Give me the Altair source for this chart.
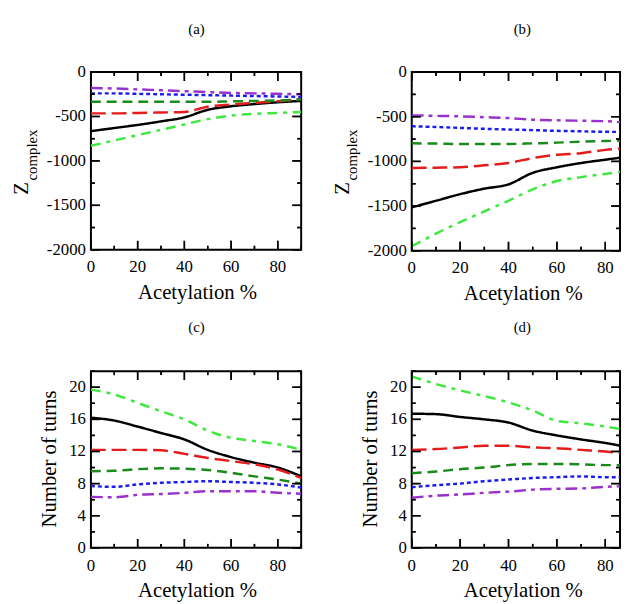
import altair as alt
import pandas as pd

FONT = "Liberation Serif"

x_vals = [0, 10, 20, 30, 40, 50, 60, 70, 80, 90]
series_names = ["s1", "s2", "s3", "s4", "s5", "s6"]
series_colors = ["#000000", "#e41c1c", "#1a8a1a", "#1c1cf0", "#9932cc", "#3ee83e"]
series_dashes = [[1, 0], [15, 6], [10, 6], [4, 3], [12, 5, 4, 5], [10, 6, 4, 6]]

# panel (a) : Z_complex
a_s1 = [-665, -630, -595, -555, -510, -425, -385, -360, -340, -325]
a_s2 = [-465, -465, -460, -455, -450, -390, -365, -346, -328, -302]
a_s3 = [-335, -335, -335, -335, -335, -335, -330, -325, -320, -310]
a_s4 = [-240, -240, -245, -250, -255, -260, -265, -270, -275, -280]
a_s5 = [-180, -185, -195, -205, -215, -225, -235, -240, -245, -250]
a_s6 = [-830, -770, -710, -650, -590, -530, -490, -470, -460, -450]

# panel (b) : Z_complex
b_s1 = [-1515, -1441, -1367, -1305, -1257, -1128, -1066, -1018, -981, -945]
b_s2 = [-1073, -1070, -1066, -1044, -1018, -963, -926, -908, -871, -850]
b_s3 = [-798, -800, -805, -805, -805, -798, -790, -779, -772, -765]
b_s4 = [-607, -615, -625, -635, -643, -650, -658, -663, -669, -670]
b_s5 = [-485, -490, -496, -505, -515, -533, -540, -545, -550, -570]
b_s6 = [-1950, -1809, -1680, -1559, -1441, -1312, -1220, -1176, -1140, -1100]

# panel (c) : Number of turns
c_s1 = [16.2, 15.85, 15.1, 14.3, 13.5, 12.2, 11.3, 10.6, 10.0, 8.9]
c_s2 = [12.2, 12.2, 12.2, 12.15, 11.7, 11.2, 10.8, 10.4, 9.75, 8.7]
c_s3 = [9.55, 9.6, 9.8, 9.9, 9.85, 9.7, 9.35, 8.9, 8.5, 8.0]
c_s4 = [7.7, 7.6, 7.9, 8.1, 8.2, 8.3, 8.2, 8.1, 7.9, 7.5]
c_s5 = [6.35, 6.3, 6.6, 6.7, 6.85, 7.05, 7.05, 7.05, 6.85, 6.75]
c_s6 = [19.7, 19.1, 18.05, 17.0, 16.0, 14.6, 13.7, 13.3, 12.9, 12.2]

# panel (d) : Number of turns
d_s1 = [16.7, 16.65, 16.3, 16.0, 15.6, 14.6, 14.0, 13.5, 13.06, 12.5]
d_s2 = [12.2, 12.3, 12.5, 12.7, 12.7, 12.5, 12.4, 12.2, 12.0, 11.7]
d_s3 = [9.3, 9.5, 9.8, 10.0, 10.3, 10.45, 10.45, 10.4, 10.3, 10.3]
d_s4 = [7.55, 7.8, 8.0, 8.3, 8.5, 8.7, 8.8, 8.9, 8.8, 8.8]
d_s5 = [6.25, 6.5, 6.65, 6.85, 7.0, 7.25, 7.35, 7.4, 7.6, 7.7]
d_s6 = [21.35, 20.4, 19.6, 18.9, 18.1, 17.1, 15.8, 15.5, 15.1, 14.6]

x_major = [0, 20, 40, 60, 80]
x_minor = [10, 30, 50, 70, 90]
z_major = [-2000, -1500, -1000, -500, 0]
z_minor = [-1750, -1250, -750, -250]
n_major = [0, 4, 8, 12, 16, 20]
n_minor = [2, 6, 10, 14, 18, 22]

x_title = "Acetylation %"
turns_title = "Number of turns"

MAJ = 9
MIN = 4


def make_df(lists):
    rows = []
    for name, vals in zip(series_names, lists):
        for xv, yv in zip(x_vals, vals):
            rows.append({"x": xv, "y": yv, "series": name})
    return pd.DataFrame(rows)


def panel(lists, xmax, ydom, ymaj, ymin, title, width, height, title_y,
          ytitle=None, ztitle=False, cx=107):
    df = make_df(lists)
    xs = alt.Scale(domain=[0, xmax], nice=False, zero=False)
    ys = alt.Scale(domain=ydom, nice=False, zero=False)
    xmaj = [v for v in x_major if v <= xmax]
    xmin = [v for v in x_minor if v <= xmax]

    X = lambda: alt.X("x:Q", scale=xs, axis=None)
    Y = lambda: alt.Y("y:Q", scale=ys, axis=None)

    lines = alt.Chart(df).mark_line(strokeWidth=2.5, interpolate="monotone", clip=True).encode(
        x=X(), y=Y(),
        color=alt.Color("series:N", scale=alt.Scale(domain=series_names, range=series_colors), legend=None),
        strokeDash=alt.StrokeDash("series:N", scale=alt.Scale(domain=series_names, range=series_dashes), legend=None),
        detail="series:N",
    )

    def xticks(values, size):
        d = pd.DataFrame({"x": values})
        out = []
        for y0, y1 in ((height, height - size), (0, size)):
            out.append(alt.Chart(d).mark_rule(color="black", strokeWidth=1.5).encode(
                x=X(), y=alt.value(y0), y2=alt.value(y1)))
            out.append(alt.Chart(d).mark_tick(color="black", thickness=1.5, size=size,
                                              orient="vertical", opacity=1).encode(
                x=X(), y=alt.value((y0 + y1) / 2)))
        return out

    def yticks(values, size):
        d = pd.DataFrame({"y": values})
        out = []
        for x0, x1 in ((0, size), (width, width - size)):
            out.append(alt.Chart(d).mark_rule(color="black", strokeWidth=1.5).encode(
                y=Y(), x=alt.value(x0), x2=alt.value(x1)))
            out.append(alt.Chart(d).mark_tick(color="black", thickness=1.5, size=size,
                                              orient="horizontal", opacity=1).encode(
                y=Y(), x=alt.value((x0 + x1) / 2)))
        return out

    # tick labels (real text, placed through the scales)
    xl = alt.Chart(pd.DataFrame({"x": xmaj, "label": [str(v) for v in xmaj]})).mark_text(
        font=FONT, fontSize=17, align="center", baseline="middle", color="black"
    ).encode(x=X(), y=alt.value(height + 18), text="label:N")
    yl = alt.Chart(pd.DataFrame({"y": ymaj, "label": [str(v) for v in ymaj]})).mark_text(
        font=FONT, fontSize=17, align="right", baseline="middle", color="black"
    ).encode(y=Y(), x=alt.value(-5), text="label:N")
    xt = alt.Chart(pd.DataFrame({"t": [x_title]})).mark_text(
        font=FONT, fontSize=21, align="center", baseline="middle", color="black"
    ).encode(text="t:N", x=alt.value(cx + 1), y=alt.value(height + 44))
    pt = alt.Chart(pd.DataFrame({"t": [title]})).mark_text(
        font=FONT, fontSize=15, align="center", baseline="middle", color="black"
    ).encode(text="t:N", x=alt.value(cx), y=alt.value(title_y))

    layers = [lines, xl, yl, xt, pt]
    if ztitle:
        z = alt.Chart(pd.DataFrame({"t": ["Z"]})).mark_text(
            font=FONT, fontSize=21, angle=270, align="center", baseline="alphabetic", color="black"
        ).encode(text="t:N", x=alt.value(-64), y=alt.value(118))
        sub = alt.Chart(pd.DataFrame({"t": ["complex"]})).mark_text(
            font=FONT, fontSize=15, angle=270, align="center", baseline="alphabetic", color="black"
        ).encode(text="t:N", x=alt.value(-55), y=alt.value(84))
        layers += [z, sub]
    if ytitle:
        yt = alt.Chart(pd.DataFrame({"t": [ytitle]})).mark_text(
            font=FONT, fontSize=21, angle=270, align="center", baseline="alphabetic", color="black"
        ).encode(text="t:N", x=alt.value(-35), y=alt.value(89))
        layers += [yt]
    layers += xticks(xmaj, MAJ) + xticks(xmin, MIN) + yticks(ymaj, MAJ) + yticks(ymin, MIN)
    return alt.layer(*layers).properties(width=width, height=height)


pa = panel([a_s1, a_s2, a_s3, a_s4, a_s5, a_s6], 90, [-2000, 0], z_major, z_minor, "(a)", 213, 180, -44,
           ztitle=True, cx=107)
pb = panel([b_s1, b_s2, b_s3, b_s4, b_s5, b_s6], 86.1, [-2000, 0], z_major, z_minor, "(b)", 211, 181, -44,
           ztitle=True, cx=112)
pc = panel([c_s1, c_s2, c_s3, c_s4, c_s5, c_s6], 90, [0, 22], n_major, n_minor, "(c)", 213, 179, -45,
           ytitle=turns_title, cx=107)
pd_ = panel([d_s1, d_s2, d_s3, d_s4, d_s5, d_s6], 86.1, [0, 22], n_major, n_minor, "(d)", 211, 179, -45,
            ytitle=turns_title, cx=112)

chart = alt.concat(
    pa, pb, pc, pd_, columns=2,
    spacing=alt.RowColnumber(row=122, column=112),
    bounds="flush",
).properties(
    padding={"left": 2, "top": 9, "right": 0, "bottom": 0},
    background="white",
).configure_view(stroke="black", strokeWidth=2)

chart.save("out.html", embed_options={"renderer": "svg", "actions": False})
